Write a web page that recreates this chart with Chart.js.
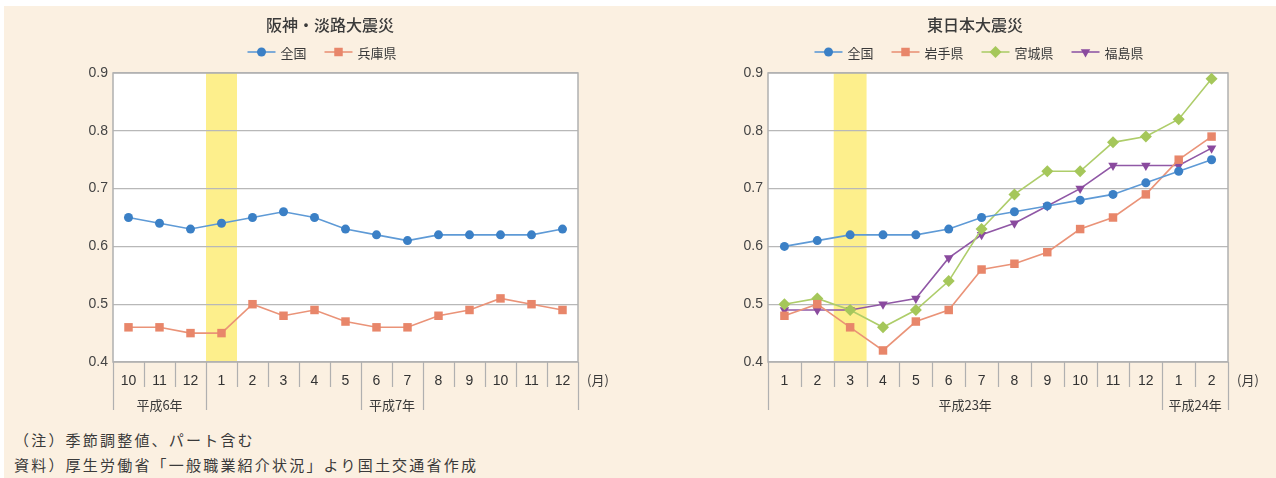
<!DOCTYPE html>
<html lang="ja">
<head>
<meta charset="utf-8">
<title>有効求人倍率の推移</title>
<script src="https://cdn.jsdelivr.net/npm/chart.js@4.4.1/dist/chart.umd.min.js"></script>
<style>
html,body{margin:0;padding:0;background:#fff;}
body{width:1276px;height:478px;position:relative;overflow:hidden;font-family:"Noto Sans CJK JP",sans-serif;}
#bg{position:absolute;left:4px;top:6px;right:0;bottom:0;background:#fbf0e1;}
canvas{position:absolute;top:0;}
#c1{left:0;}
#c2{left:640px;}
.note{position:absolute;left:14px;font-size:15px;line-height:20px;color:#3a3a3a;letter-spacing:2.2px;white-space:nowrap;}
</style>
</head>
<body>
<div id="bg"></div>
<canvas id="c1" width="640" height="420"></canvas>
<canvas id="c2" width="636" height="420"></canvas>
<div class="note" style="top:430px">（注）季節調整値、パート含む</div>
<div class="note" style="top:455px">資料）厚生労働省「一般職業紹介状況」より国土交通省作成</div>

<script>
// 阪神・淡路大震災（平成6年10月〜平成7年12月）
const hanshinMonths = ['10','11','12','1','2','3','4','5','6','7','8','9','10','11','12'];
const hanshinYears = ['平成6年', '平成7年'];
const hanshinYearSpans = [3, 12];
const hanshinZenkoku = [0.65,0.64,0.63,0.64,0.65,0.66,0.65,0.63,0.62,0.61,0.62,0.62,0.62,0.62,0.63];
const hyogo = [0.46,0.46,0.45,0.45,0.50,0.48,0.49,0.47,0.46,0.46,0.48,0.49,0.51,0.50,0.49];

// 東日本大震災（平成23年1月〜平成24年2月）
const tohokuMonths = ['1','2','3','4','5','6','7','8','9','10','11','12','1','2'];
const tohokuYears = ['平成23年', '平成24年'];
const tohokuYearSpans = [12, 2];
const tohokuZenkoku = [0.60,0.61,0.62,0.62,0.62,0.63,0.65,0.66,0.67,0.68,0.69,0.71,0.73,0.75];
const iwate = [0.48,0.50,0.46,0.42,0.47,0.49,0.56,0.57,0.59,0.63,0.65,0.69,0.75,0.79];
const miyagi = [0.50,0.51,0.49,0.46,0.49,0.54,0.63,0.69,0.73,0.73,0.78,0.79,0.82,0.89];
const fukushima = [0.49,0.49,0.49,0.50,0.51,0.58,0.62,0.64,0.67,0.70,0.74,0.74,0.74,0.77];

// 震災発生月
const hanshinQuake = 3;
const tohokuQuake = 2;

const JP = '"Noto Sans CJK JP", sans-serif';
const NUM = '"Liberation Sans", Arial, sans-serif';

function series(label, data, color, line, style, radius, rotation) {
  return {
    label: label,
    data: data,
    borderColor: line,
    backgroundColor: color,
    pointBackgroundColor: color,
    pointBorderWidth: 0,
    pointStyle: style,
    pointRadius: radius,
    pointHoverRadius: radius,
    pointRotation: rotation || 0,
    borderWidth: 1.6,
    tension: 0
  };
}

// 背景・震災月の帯・目盛り線・年ラベル・タイトル・凡例
const frame = {
  id: 'frame',
  beforeDraw(chart, args, o) {
    const ctx = chart.ctx, a = chart.chartArea, x = chart.scales.x;
    const w = (a.right - a.left) / chart.data.labels.length;
    ctx.save();
    ctx.fillStyle = '#fff';
    ctx.fillRect(a.left, a.top, a.right - a.left, a.bottom - a.top);
    const cx = x.getPixelForValue(o.highlight);
    ctx.fillStyle = '#fdef8c';
    ctx.fillRect(cx - w / 2, a.top, w, a.bottom - a.top);
    ctx.restore();
  },
  beforeDatasetsDraw(chart) {
    const ctx = chart.ctx, a = chart.chartArea;
    ctx.save();
    ctx.strokeStyle = '#b0b0b0';
    ctx.lineWidth = 1.5;
    ctx.strokeRect(a.left, a.top, a.right - a.left, a.bottom - a.top);
    ctx.restore();
  },
  afterDraw(chart, args, o) {
    const ctx = chart.ctx, a = chart.chartArea;
    const n = chart.data.labels.length;
    const w = (a.right - a.left) / n;
    ctx.save();

    // 月の区切り線
    ctx.strokeStyle = '#b0b0b0';
    ctx.lineWidth = 1.2;
    for (let i = 0; i <= n; i++) {
      const px = Math.round(a.left + i * w) + 0.5;
      const len = o.longTicks.includes(i) ? 48 : 25;
      ctx.beginPath();
      ctx.moveTo(px, a.bottom);
      ctx.lineTo(px, a.bottom + len);
      ctx.stroke();
    }

    // 年ラベル
    ctx.fillStyle = '#3a3a3a';
    ctx.font = '13px ' + JP;
    ctx.textAlign = 'center';
    ctx.textBaseline = 'middle';
    let start = 0;
    o.years.forEach((y, i) => {
      const end = start + o.spans[i];
      ctx.fillText(y, a.left + (start + end) / 2 * w, a.bottom + 43);
      start = end;
    });
    ctx.fillText('(月)', a.right + 20, a.bottom + 18);

    // タイトル
    ctx.fillStyle = '#3a3a3a';
    ctx.font = '500 16px ' + JP;
    ctx.fillText(o.title, o.titleX, 25);

    // 凡例
    ctx.font = '13px ' + JP;
    ctx.textAlign = 'left';
    const seg = 28, gap = 5, space = 18, ly = 52;
    const sets = chart.data.datasets;
    let total = space * (sets.length - 1);
    sets.forEach(d => { total += seg + gap + ctx.measureText(d.label).width; });
    let lx = o.legendX - total / 2;
    sets.forEach(d => {
      ctx.strokeStyle = d.borderColor;
      ctx.lineWidth = 1.6;
      ctx.beginPath();
      ctx.moveTo(lx, ly);
      ctx.lineTo(lx + seg, ly);
      ctx.stroke();
      ctx.fillStyle = d.pointBackgroundColor;
      Chart.helpers.drawPoint(ctx, {
        pointStyle: d.pointStyle, radius: d.pointRadius,
        rotation: d.pointRotation, borderWidth: 0
      }, lx + seg / 2, ly);
      ctx.fillStyle = '#3a3a3a';
      ctx.fillText(d.label, lx + seg + gap, ly + 1);
      lx += seg + gap + ctx.measureText(d.label).width + space;
    });
    ctx.restore();
  }
};

function makeChart(id, labels, datasets, yWidth, padRight, opts) {
  return new Chart(document.getElementById(id), {
    type: 'line',
    data: { labels: labels, datasets: datasets },
    plugins: [frame],
    options: {
      responsive: false,
      animation: false,
      events: [],
      layout: { padding: { left: 0, right: padRight, top: 73, bottom: 0 } },
      plugins: {
        legend: { display: false },
        title: { display: false },
        tooltip: { enabled: false },
        frame: opts
      },
      scales: {
        x: {
          offset: true,
          grid: { display: false, drawTicks: false },
          border: { display: false },
          ticks: {
            autoSkip: false, maxRotation: 0, padding: 11,
            color: '#333', font: { family: NUM, size: 14 }
          },
          afterFit(s) { s.height = 58; }
        },
        y: {
          min: 0.4, max: 0.9,
          grid: { color: '#b8b8b8', lineWidth: 1.2, drawTicks: false },
          border: { display: false },
          ticks: {
            stepSize: 0.1, padding: 5,
            color: '#444', font: { family: NUM, size: 14 },
            callback: v => v.toFixed(1)
          },
          afterFit(s) { s.width = yWidth; }
        }
      }
    }
  });
}

makeChart('c1', hanshinMonths, [
  series('全国', hanshinZenkoku, '#3b80c6', '#5e9ad6', 'circle', 4.5),
  series('兵庫県', hyogo, '#e8866a', '#ea9378', 'rect', 6)
], 113, 62, {
  highlight: hanshinQuake,
  title: '阪神・淡路大震災', titleX: 330, legendX: 322,
  years: hanshinYears, spans: hanshinYearSpans,
  longTicks: [0, 3, 8, 10, 15]
});

makeChart('c2', tohokuMonths, [
  series('全国', tohokuZenkoku, '#3b80c6', '#5e9ad6', 'circle', 4.5),
  series('岩手県', iwate, '#e8866a', '#ea9378', 'rect', 6),
  series('宮城県', miyagi, '#a5c75a', '#aecd6a', 'rectRot', 6),
  series('福島県', fukushima, '#8a4a9e', '#9058a6', 'triangle', 5.5, 180)
], 128, 48, {
  highlight: tohokuQuake,
  title: '東日本大震災', titleX: 335, legendX: 339,
  years: tohokuYears, spans: tohokuYearSpans,
  longTicks: [0, 12, 14]
});
</script>
</body>
</html>
